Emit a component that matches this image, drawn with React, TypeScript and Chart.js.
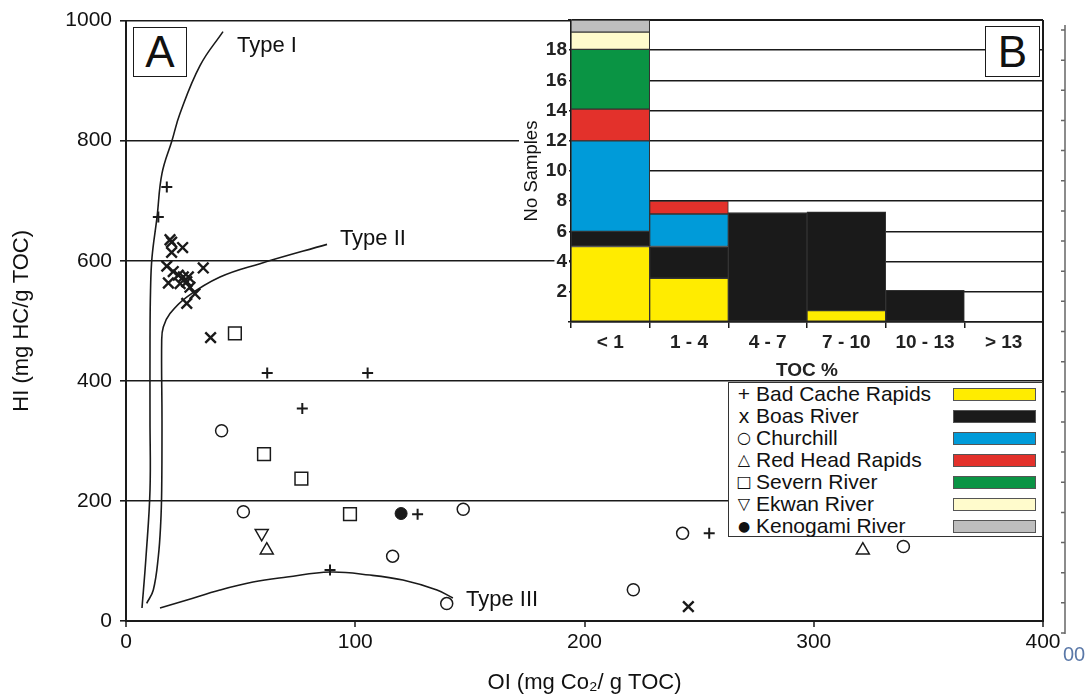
import React, { useEffect, useRef } from "react";
import { Chart, registerables } from "chart.js";

Chart.register(...registerables);

const FONT = "'Liberation Sans', Arial, Helvetica, sans-serif";
const INK = "#1a1a1a";

// ---------- Diagram A : HI vs OI ----------
const oiTicks = [0, 100, 200, 300, 400];
const hiTicks = [0, 200, 400, 600, 800, 1000];

const badCacheOI = [17.8, 14.1, 61.6, 105.4, 76.9, 127.2, 89.0, 254.4];
const badCacheHI = [723, 673, 413, 413, 354, 178, 85, 146];

const boasOI = [19.2, 19.9, 24.7, 19.9, 17.8, 33.7, 20.6, 22.8, 25.0, 27.2, 18.5, 23.6, 26.5, 27.9, 30.1, 26.5, 36.9, 245.3];
const boasHI = [635, 631, 622, 614, 591, 588, 582, 576, 573, 573, 563, 562, 565, 556, 545, 529, 472, 24];

const churchillOI = [41.7, 51.2, 147.1, 116.3, 139.9, 242.8, 221.3, 339.1];
const churchillHI = [317, 182, 186, 108, 29, 146, 52, 124];

const redHeadOI = [61.4, 321.4];
const redHeadHI = [118, 118];

const severnOI = [47.5, 60.2, 76.5, 97.7];
const severnHI = [479, 278, 237, 178];

const ekwanOI = [59.2];
const ekwanHI = [146];

const kenogamiOI = [120.0];
const kenogamiHI = [179];

const typeIOI = [6.98, 8.72, 10.47, 10.47, 10.47, 10.7, 11.34, 13.52, 15.7, 20.07, 23.55, 32.28, 42.31];
const typeIHI = [21.6, 106.5, 218, 334, 467.6, 550.7, 605.7, 672.2, 745.4, 800.3, 845.3, 925.1, 981.7];

const typeIIOI = [9.03, 11.91, 14.09, 15.14, 15.57, 15.7, 15.57, 16.27, 19.19, 26.48, 41.0, 58.45, 87.68];
const typeIIHI = [29.5, 51.6, 107.0, 162.6, 218.0, 334.4, 467.6, 489.7, 512.0, 539.6, 572.9, 595.2, 627.3];

const typeIIIOI = [14.83, 26.61, 41.0, 55.4, 70.23, 88.99, 106.4, 120.8, 135.66, 142.6];
const typeIIIHI = [21.6, 34.9, 51.6, 64.9, 73.2, 81.5, 76.5, 68.2, 51.6, 38.3];

const typeLabels = ["Type I", "Type II", "Type III"];
const typeLabelOI = [48.4, 93.3, 148.3];
const typeLabelHI = [958, 637, 35];

// ---------- Diagram B : TOC histogram ----------
const tocClasses = ["< 1", "1 - 4", "4 - 7", "7 - 10", "10 - 13", "> 13"];
const tocBadCache = [5, 2.9, null, 0.75, null, null];
const tocBoas = [1, 2.1, 7.25, 6.55, 2.1, null];
const tocChurchill = [6, 2.15, null, null, null, null];
const tocRedHead = [2.1, 0.85, null, null, null, null];
const tocSevern = [3.95, null, null, null, null, null];
const tocEkwan = [1.15, null, null, null, null, null];
const tocKenogami = [0.8, null, null, null, null, null];

const siteNames = ["Bad Cache Rapids", "Boas River", "Churchill", "Red Head Rapids", "Severn River", "Ekwan River", "Kenogami River"];
const siteSymbols = ["+", "x", "○", "△", "□", "▽", "●"];
const siteColors = ["#FFEC00", "#1A1A1A", "#009BD9", "#E3312B", "#0A9444", "#FFFBCC", "#BEBEBE"];

const pts = (xs: number[], ys: number[]) => xs.map((x, i) => ({ x, y: ys[i] }));

const curve = (label: string, xs: number[], ys: number[]) => ({
  label,
  data: pts(xs, ys),
  showLine: true,
  borderColor: INK,
  borderWidth: 1.6,
  pointRadius: 0,
  tension: 0.4,
  fill: false,
});

const typeLabelPlugin = {
  id: "typeLabels",
  afterDatasetsDraw(chart: any) {
    const { ctx, scales } = chart;
    ctx.save();
    ctx.font = `22px ${FONT}`;
    ctx.fillStyle = "#111";
    ctx.textAlign = "left";
    ctx.textBaseline = "middle";
    typeLabels.forEach((t, i) => {
      ctx.fillText(t, scales.x.getPixelForValue(typeLabelOI[i]), scales.y.getPixelForValue(typeLabelHI[i]));
    });
    ctx.restore();
  },
};

const sideRulerPlugin = {
  id: "sideRuler",
  afterDraw(chart: any) {
    const { ctx, chartArea } = chart;
    const x = chartArea.right + 22;
    ctx.save();
    ctx.strokeStyle = "#666";
    ctx.lineWidth = 1.5;
    ctx.beginPath();
    ctx.moveTo(x, 25);
    ctx.lineTo(x, 634);
    for (let i = 0; i <= 20; i++) {
      const y = 30 + i * 30.15;
      ctx.moveTo(x - 4, y);
      ctx.lineTo(x, y);
    }
    ctx.stroke();
    ctx.restore();
  },
};

const insetPlugin = {
  id: "insetBg",
  beforeDraw(chart: any) {
    const { ctx, chartArea: a, scales } = chart;
    ctx.save();
    ctx.fillStyle = "#fff";
    ctx.fillRect(a.left, a.top + 1, a.right - a.left, a.bottom - a.top - 1);
    ctx.font = `18.5px ${FONT}`;
    const w = ctx.measureText("No Samples").width;
    const cy = (a.top + a.bottom) / 2;
    const x0 = scales.y.left + 19;
    ctx.fillRect(x0, cy - w / 2 - 4, a.left - x0, w + 8);
    ctx.restore();
  },
  afterDraw(chart: any) {
    const { ctx, chartArea: a } = chart;
    ctx.save();
    ctx.strokeStyle = INK;
    ctx.lineWidth = 2;
    ctx.beginPath();
    ctx.moveTo(a.right, a.top);
    ctx.lineTo(a.right, a.bottom);
    ctx.stroke();
    ctx.restore();
  },
};

export default function App() {
  const mainRef = useRef<HTMLCanvasElement>(null);
  const insetRef = useRef<HTMLCanvasElement>(null);

  useEffect(() => {
    const tickFont = { family: FONT, size: 21 };
    const main = new Chart(mainRef.current as HTMLCanvasElement, {
      type: "scatter",
      data: {
        datasets: [
          curve("Type I", typeIOI, typeIHI),
          curve("Type II", typeIIOI, typeIIHI),
          curve("Type III", typeIIIOI, typeIIIHI),
          { label: siteNames[0], data: pts(badCacheOI, badCacheHI), pointStyle: "cross", pointRadius: 5.5, borderColor: INK, borderWidth: 2 },
          { label: siteNames[1], data: pts(boasOI, boasHI), pointStyle: "crossRot", pointRadius: 7.5, borderColor: INK, borderWidth: 2.4 },
          { label: siteNames[2], data: pts(churchillOI, churchillHI), pointStyle: "circle", pointRadius: 6, borderColor: INK, backgroundColor: "#fff", borderWidth: 1.5 },
          { label: siteNames[3], data: pts(redHeadOI, redHeadHI), pointStyle: "triangle", pointRadius: 7.5, borderColor: INK, backgroundColor: "#fff", borderWidth: 1.5 },
          { label: siteNames[4], data: pts(severnOI, severnHI), pointStyle: "rect", pointRadius: 9, borderColor: INK, backgroundColor: "#fff", borderWidth: 1.5 },
          { label: siteNames[5], data: pts(ekwanOI, ekwanHI), pointStyle: "triangle", pointRotation: 180, pointRadius: 7.5, borderColor: INK, backgroundColor: "#fff", borderWidth: 1.5 },
          { label: siteNames[6], data: pts(kenogamiOI, kenogamiHI), pointStyle: "circle", pointRadius: 6, borderColor: INK, backgroundColor: INK, borderWidth: 1 },
        ] as any,
      },
      options: {
        responsive: false,
        animation: false,
        devicePixelRatio: 1,
        layout: { padding: { left: 0, right: 43, top: 20, bottom: 0 } },
        plugins: { legend: { display: false }, tooltip: { enabled: false } },
        scales: {
          x: {
            type: "linear",
            min: oiTicks[0],
            max: oiTicks[oiTicks.length - 1],
            afterBuildTicks: (s: any) => { s.ticks = oiTicks.map((v) => ({ value: v })); },
            ticks: { font: tickFont, color: "#111", padding: 3, callback: (v: any) => String(v) },
            grid: {
              color: (c: any) => (c.tick && c.tick.value === 400 ? INK : "rgba(0,0,0,0)"),
              lineWidth: 2,
              tickColor: INK,
              tickWidth: 1.5,
              tickLength: 6,
            },
            border: { display: true, color: INK, width: 2 },
            title: { display: true, text: "OI (mg Co₂/ g TOC)", font: { family: FONT, size: 22 }, color: "#111", padding: { top: 0, bottom: 2 } },
            afterFit: (s: any) => { s.height = 77; },
          },
          y: {
            type: "linear",
            min: hiTicks[0],
            max: hiTicks[hiTicks.length - 1],
            afterBuildTicks: (s: any) => { s.ticks = hiTicks.map((v) => ({ value: v })); },
            ticks: { font: tickFont, color: "#111", padding: 8, callback: (v: any) => String(v) },
            grid: { color: INK, lineWidth: 1.6, tickColor: INK, tickLength: 6 },
            border: { display: true, color: INK, width: 2 },
            title: { display: true, text: "HI (mg HC/g TOC)", font: { family: FONT, size: 22 }, color: "#111", padding: { top: 9, bottom: 0 } },
            afterFit: (s: any) => { s.width = 126; },
          },
        },
      } as any,
      plugins: [typeLabelPlugin, sideRulerPlugin],
    });

    const tocSeries = [tocBadCache, tocBoas, tocChurchill, tocRedHead, tocSevern, tocEkwan, tocKenogami];
    const inset = new Chart(insetRef.current as HTMLCanvasElement, {
      type: "bar",
      data: {
        labels: tocClasses,
        datasets: tocSeries.map((d, i) => ({
          label: siteNames[i],
          data: d,
          backgroundColor: siteColors[i],
          borderColor: "#333",
          borderWidth: 1,
          borderSkipped: false,
          barPercentage: 1,
          categoryPercentage: 1,
        })) as any,
      },
      options: {
        responsive: false,
        animation: false,
        devicePixelRatio: 1,
        layout: { padding: { left: 500, right: 43, top: 20, bottom: 316 } },
        plugins: { legend: { display: false }, tooltip: { enabled: false } },
        scales: {
          x: {
            stacked: true,
            ticks: { font: { family: FONT, size: 19, weight: "bold" }, color: "#222", padding: 3 },
            grid: { offset: true, drawOnChartArea: false, color: INK, tickColor: INK, tickLength: 6, lineWidth: 1.5 },
            border: { display: true, color: INK, width: 1.5 },
            title: { display: true, text: "TOC %", font: { family: FONT, size: 19, weight: "bold" }, color: "#222", padding: { top: 0, bottom: 0 } },
            afterFit: (s: any) => { s.height = 60; },
          },
          y: {
            stacked: true,
            min: 0,
            max: 20,
            ticks: {
              stepSize: 2,
              font: { family: FONT, size: 19, weight: "bold" },
              color: "#222",
              padding: 1,
              callback: (v: any) => (v === 0 || v === 20 ? "" : String(v)),
              showLabelBackdrop: true,
              backdropColor: (c: any) => (c.tick && (c.tick.value === 0 || c.tick.value === 20) ? "rgba(0,0,0,0)" : "#fff"),
              backdropPadding: 2,
            },
            grid: { color: INK, lineWidth: 1.6, tickColor: INK, tickLength: 3 },
            border: { display: true, color: INK, width: 1.5 },
            title: { display: true, text: "No Samples", font: { family: FONT, size: 18.5 }, color: "#111", padding: { top: 21, bottom: 0 } },
            afterFit: (s: any) => { s.width = 71; },
          },
        },
      } as any,
      plugins: [insetPlugin],
    });

    return () => {
      main.destroy();
      inset.destroy();
    };
  }, []);

  const boxStyle: React.CSSProperties = {
    position: "absolute",
    border: `1.5px solid ${INK}`,
    background: "#fff",
    boxSizing: "border-box",
    fontFamily: FONT,
    fontSize: 44,
    color: "#111",
    display: "flex",
    alignItems: "center",
    justifyContent: "center",
    lineHeight: 1,
  };

  return (
    <div style={{ position: "absolute", left: 0, top: 0, width: 1086, height: 698, background: "#fff", overflow: "hidden" }}>
      <canvas ref={mainRef} width={1086} height={698} style={{ position: "absolute", left: 0, top: 0, width: 1086, height: 698 }} />
      <canvas ref={insetRef} width={1086} height={698} style={{ position: "absolute", left: 0, top: 0, width: 1086, height: 698 }} />
      <div style={{ ...boxStyle, left: 133, top: 27, width: 54, height: 50 }}>A</div>
      <div style={{ ...boxStyle, left: 985, top: 26, width: 55, height: 51 }}>B</div>
      <div
        style={{
          position: "absolute",
          left: 728,
          top: 382,
          width: 315,
          height: 155,
          border: "1.5px solid #333",
          background: "#fff",
          boxSizing: "border-box",
          fontFamily: FONT,
          fontSize: 21,
          color: "#111",
        }}
      >
        {siteNames.map((name, i) => (
          <div key={name} style={{ position: "absolute", left: 0, right: 0, top: i * 22, height: 22, display: "flex", alignItems: "center" }}>
            <span
              style={{
                display: "inline-block",
                width: 20,
                marginLeft: 5,
                textAlign: "center",
                fontSize: i < 2 ? 21 : i === 6 ? 14 : 16,
                fontFamily: i < 2 ? FONT : "'DejaVu Sans', sans-serif",
                lineHeight: "22px",
              }}
            >
              {siteSymbols[i]}
            </span>
            <span style={{ marginLeft: 2, whiteSpace: "nowrap", lineHeight: "22px" }}>{name}</span>
            <span
              style={{
                position: "absolute",
                left: 224,
                top: 4.5,
                width: 83,
                height: 13,
                border: "1px solid #555",
                boxSizing: "border-box",
                background: siteColors[i],
              }}
            />
          </div>
        ))}
      </div>
      <div style={{ position: "absolute", left: 1063, top: 643, fontFamily: FONT, fontSize: 20, color: "#5a78a8" }}>00</div>
    </div>
  );
}
